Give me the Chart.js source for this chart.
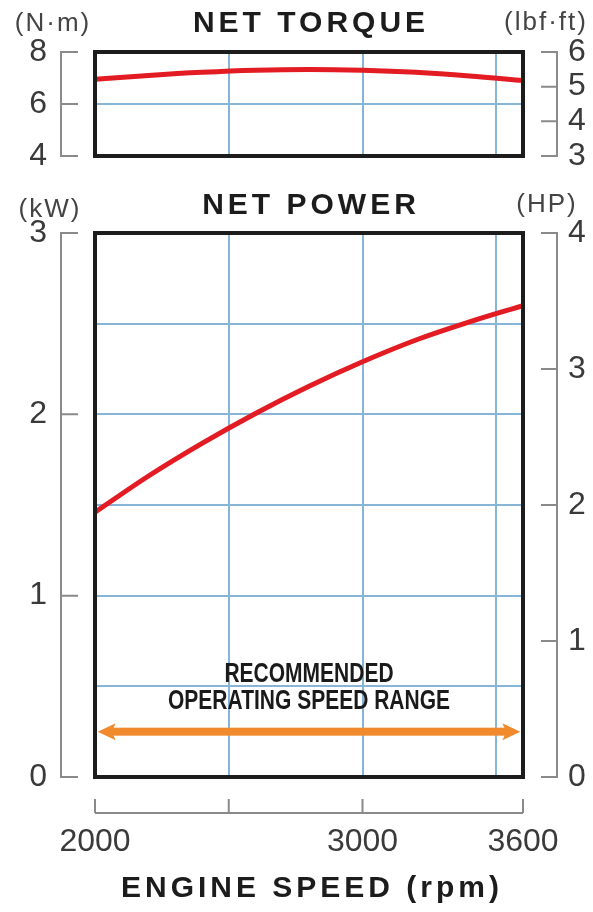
<!DOCTYPE html>
<html>
<head>
<meta charset="utf-8">
<script src="https://cdn.jsdelivr.net/npm/chart.js@4.4.1/dist/chart.umd.min.js"></script>
<style>
  html, body { margin: 0; padding: 0; background: #fff; }
  #wrap { position: relative; width: 593px; height: 912px; }
  #wrap canvas { position: absolute; left: 0; top: 0; }
</style>
</head>
<body>
<div id="wrap">
  <canvas id="torque" width="593" height="912"></canvas>
  <canvas id="power" width="593" height="912"></canvas>
</div>
<script>
/* =========================
   DATA
========================= */

const rpm = [2000, 2200, 2400, 2600, 2800, 3000, 3200, 3400, 3600];
const torqueNm = [6.95, 7.1, 7.22, 7.3, 7.33, 7.3, 7.22, 7.08, 6.9];
const powerKw = [1.46, 1.66, 1.84, 2.005, 2.155, 2.29, 2.41, 2.51, 2.60];

const gridRpm = [2500, 3000, 3500];
const rpmLabels = [2000, 3000, 3600];
const rpmBracket = [2000, 2500, 3000, 3600];

const torqueTicksNm = [4, 6, 8];
const torqueTicksLbf = [3, 4, 5, 6];
const powerTicksKw = [0, 1, 2, 3];
const powerTicksHp = [0, 1, 2, 3, 4];

const speedRange = [2010, 3590];
const speedRangeLevel = 0.25;

/* =========================
   STYLE
========================= */

const RED = "#e31b23";
const BLUE = "#86b5d8";
const GRAY = "#8a8a8a";
const INK = "#1c1c1c";
const TICK_FONT = { family: "'Liberation Sans', Arial, sans-serif", size: 32 };
const TICK_COLOR = "#3a3a3a";

function toTicks(arr) {
  return arr.map(v => ({ value: v }));
}

function spacedText(ctx, text, x, y, font, spacing, color) {
  ctx.save();
  ctx.font = font;
  ctx.fillStyle = color;
  ctx.textAlign = "center";
  ctx.textBaseline = "middle";
  ctx.letterSpacing = spacing + "px";
  ctx.fillText(text, x + spacing / 2, y);
  ctx.restore();
}

// bracket axis: vertical line with little ticks pointing to the box
function bracket(ctx, scale, values, lineX, tickX) {
  const top = scale.getPixelForValue(scale.max);
  const bottom = scale.getPixelForValue(scale.min);
  ctx.beginPath();
  ctx.moveTo(tickX, top);
  ctx.lineTo(lineX, top);
  ctx.lineTo(lineX, bottom);
  ctx.lineTo(tickX, bottom);
  values.forEach(v => {
    const y = scale.getPixelForValue(v);
    ctx.moveTo(lineX, y);
    ctx.lineTo(tickX, y);
  });
  ctx.stroke();
}

/* =========================
   PLUGIN
========================= */

const deco = {
  id: "deco",
  afterDatasetsDraw(chart, args, opts) {
    const ctx = chart.ctx;
    const a = chart.chartArea;

    if (opts.arrow) {
      const sx = chart.scales.x;
      const sy = chart.scales.y;
      const y = sy.getPixelForValue(speedRangeLevel);
      const x1 = sx.getPixelForValue(speedRange[0]);
      const x2 = sx.getPixelForValue(speedRange[1]);
      ctx.save();
      ctx.fillStyle = "#f08a2c";
      ctx.fillRect(x1 + 12, y - 4, x2 - x1 - 24, 8);
      ctx.beginPath();
      ctx.moveTo(x1, y);
      ctx.lineTo(x1 + 18, y - 8.5);
      ctx.lineTo(x1 + 14, y);
      ctx.lineTo(x1 + 18, y + 8.5);
      ctx.closePath();
      ctx.moveTo(x2, y);
      ctx.lineTo(x2 - 18, y - 8.5);
      ctx.lineTo(x2 - 14, y);
      ctx.lineTo(x2 - 18, y + 8.5);
      ctx.closePath();
      ctx.fill();

      // condensed caption
      const cx = (a.left + a.right) / 2;
      ctx.font = "bold 27px 'Liberation Sans', Arial, sans-serif";
      const w = ctx.measureText("OPERATING SPEED RANGE").width;
      const k = 282 / w;
      ctx.fillStyle = "#1a1a1a";
      ctx.textAlign = "center";
      ctx.textBaseline = "middle";
      [["RECOMMENDED", y - 57], ["OPERATING SPEED RANGE", y - 30]].forEach(([t, ty]) => {
        ctx.save();
        ctx.translate(cx, ty);
        ctx.scale(k, 1);
        ctx.fillText(t, 0, 0);
        ctx.restore();
      });
      ctx.restore();
    }

    // black frame
    ctx.save();
    ctx.strokeStyle = INK;
    ctx.lineWidth = 4;
    ctx.strokeRect(a.left, a.top, a.right - a.left, a.bottom - a.top);
    ctx.restore();
  },
  afterDraw(chart, args, opts) {
    const ctx = chart.ctx;
    const a = chart.chartArea;
    ctx.save();
    ctx.strokeStyle = GRAY;
    ctx.lineWidth = 2;
    bracket(ctx, chart.scales.y, opts.leftTicks, 61, 78);
    bracket(ctx, chart.scales.y2, opts.rightTicks, 557, 541);

    if (opts.xBracket) {
      const sx = chart.scales.x;
      ctx.beginPath();
      ctx.moveTo(a.left, 813);
      ctx.lineTo(a.right, 813);
      rpmBracket.forEach(v => {
        const x = sx.getPixelForValue(v);
        ctx.moveTo(x, 813);
        ctx.lineTo(x, 799);
      });
      ctx.stroke();
      spacedText(ctx, "ENGINE SPEED (rpm)", 310, 889, "bold 30px 'Liberation Sans', Arial, sans-serif", 4, INK);
    }
    ctx.restore();

    const t = opts.titles;
    spacedText(ctx, t.main, (a.left + a.right) / 2, t.y, "bold 30px 'Liberation Sans', Arial, sans-serif", 4, INK);
    spacedText(ctx, t.left, t.leftX, t.leftY, "26px 'Liberation Sans', Arial, sans-serif", 2, "#444");
    spacedText(ctx, t.right, t.rightX, t.rightY, "26px 'Liberation Sans', Arial, sans-serif", 2, "#444");
  }
};

/* =========================
   CHARTS
========================= */

function xGridAxis() {
  return {
    type: "linear",
    min: 2000,
    max: 3600,
    afterBuildTicks: s => { s.ticks = toTicks(gridRpm); },
    afterFit: s => { s.height = 0; },
    ticks: { display: false },
    grid: { color: BLUE, lineWidth: 2, drawTicks: false },
    border: { display: false }
  };
}

function yAxis(min, max, ticks, pos, showGrid) {
  return {
    type: "linear",
    position: pos,
    min: min,
    max: max,
    afterBuildTicks: ticks ? (s => { s.ticks = toTicks(ticks); }) : undefined,
    afterFit: s => {
      s.width = pos === "left" ? 95 : 70;
      s.paddingTop = 0;
      s.paddingBottom = 0;
    },
    ticks: {
      font: TICK_FONT,
      color: TICK_COLOR,
      autoSkip: false,
      padding: pos === "left" ? 48 : 45
    },
    grid: {
      display: showGrid,
      drawTicks: false,
      color: c => (c.tick.value === min || c.tick.value === max) ? "rgba(0,0,0,0)" : BLUE,
      lineWidth: 2
    },
    border: { display: false }
  };
}

function curve(values) {
  return {
    data: rpm.map((r, i) => ({ x: r, y: values[i] })),
    borderColor: RED,
    borderWidth: 5,
    pointRadius: 0,
    cubicInterpolationMode: "monotone",
    fill: false
  };
}

new Chart(document.getElementById("torque"), {
  type: "line",
  data: { datasets: [curve(torqueNm)] },
  options: {
    responsive: false,
    animation: false,
    layout: { padding: { top: 52, bottom: 756, left: 0, right: 0 } },
    plugins: {
      legend: { display: false },
      tooltip: { enabled: false },
      deco: {
        leftTicks: torqueTicksNm,
        rightTicks: torqueTicksLbf,
        titles: {
          main: "NET TORQUE", y: 24,
          left: "(N·m)", leftX: 52, leftY: 24,
          right: "(lbf·ft)", rightX: 545, rightY: 23
        }
      }
    },
    scales: {
      x: xGridAxis(),
      y: yAxis(4, 8, torqueTicksNm, "left", true),
      y2: yAxis(3, 6, torqueTicksLbf, "right", false)
    }
  },
  plugins: [deco]
});

const powerY = yAxis(0, 3, null, "left", true);
powerY.ticks.stepSize = 0.5;
powerY.ticks.callback = v => (powerTicksKw.includes(v) ? v : "");

new Chart(document.getElementById("power"), {
  type: "line",
  data: { datasets: [curve(powerKw)] },
  options: {
    responsive: false,
    animation: false,
    layout: { padding: { top: 233, bottom: 35, left: 0, right: 0 } },
    plugins: {
      legend: { display: false },
      tooltip: { enabled: false },
      deco: {
        arrow: true,
        xBracket: true,
        leftTicks: powerTicksKw,
        rightTicks: powerTicksHp,
        titles: {
          main: "NET POWER", y: 206,
          left: "(kW)", leftX: 49, leftY: 210,
          right: "(HP)", rightX: 546, rightY: 205
        }
      }
    },
    scales: {
      x: xGridAxis(),
      xl: {
        type: "linear",
        position: "bottom",
        weight: 1,
        min: 2000,
        max: 3600,
        afterBuildTicks: s => { s.ticks = toTicks(rpmLabels); },
        afterFit: s => {
          s.height = 100;
          s.paddingLeft = 0;
          s.paddingRight = 0;
        },
        ticks: {
          font: TICK_FONT,
          color: TICK_COLOR,
          padding: 46,
          autoSkip: false,
          maxRotation: 0,
          callback: v => String(v)
        },
        grid: { display: false, drawTicks: false },
        border: { display: false }
      },
      y: powerY,
      y2: yAxis(0, 4, powerTicksHp, "right", false)
    }
  },
  plugins: [deco]
});
</script>
</body>
</html>
